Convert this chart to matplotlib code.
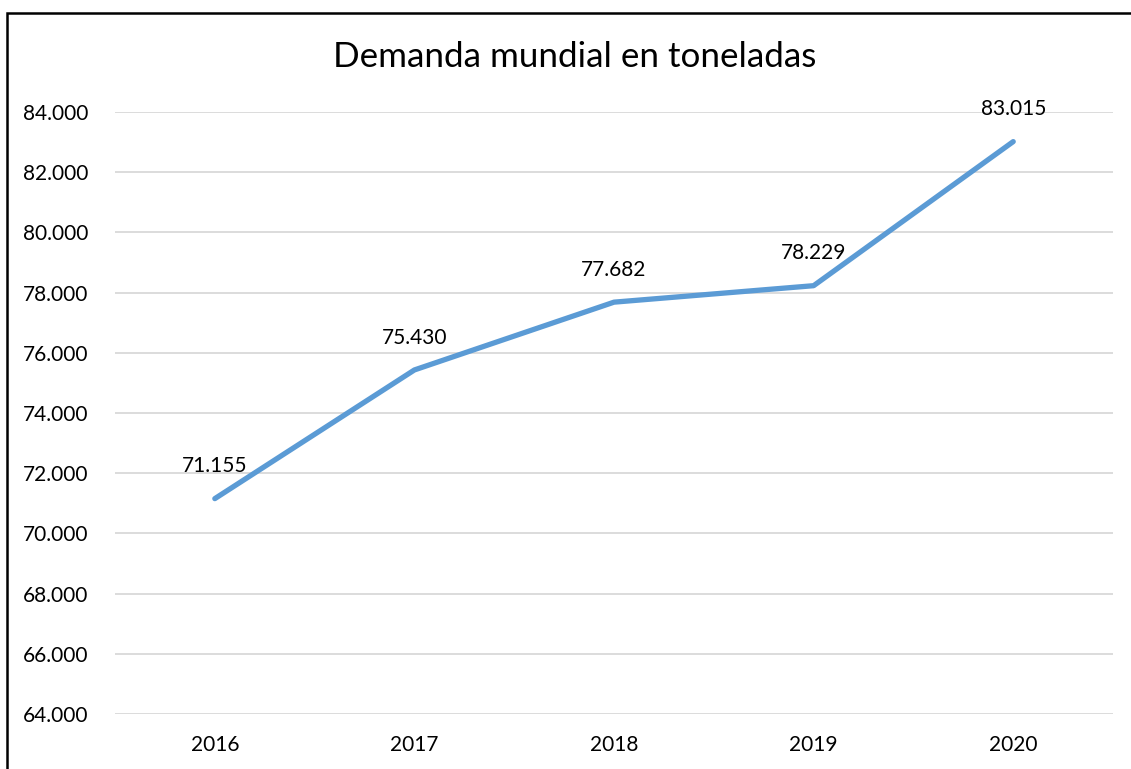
import matplotlib
matplotlib.use('Agg')
import matplotlib.pyplot as plt
from matplotlib.patches import Rectangle

plt.rcParams['font.family'] = ['Lato', 'DejaVu Sans']

# datos
years = ['2016', '2017', '2018', '2019', '2020']
demanda = [71155, 75430, 77682, 78229, 83015]
yticks = list(range(64000, 84001, 2000))

fig = plt.figure(figsize=(11.31, 7.69), dpi=100)
ax = fig.add_axes([0.1017, 0.0715, 0.8824, 0.7829])

x = list(range(len(years)))
ax.plot(x, demanda, color='#5B9BD5', lw=3.8, solid_capstyle='round', zorder=3)

for xi, v in zip(x, demanda):
    ax.annotate(f'{v:,}'.replace(',', '.'), (xi, v), xytext=(0, 16),
                textcoords='offset points', ha='center', va='bottom',
                fontsize=15, color='black')

ax.set_xlim(-0.5, len(years) - 0.5)
ax.set_ylim(64000, 84000)
ax.set_yticks(yticks)
ax.set_yticklabels([f'{t:,}'.replace(',', '.') for t in yticks], fontsize=15)
ax.set_xticks(x)
ax.set_xticklabels(years, fontsize=15)
ax.tick_params(length=0)
ax.tick_params(axis='y', pad=19)
ax.tick_params(axis='x', pad=15)
ax.yaxis.grid(True, color='#D9D9D9', lw=1.3)
ax.set_axisbelow(True)
for s in ax.spines.values():
    s.set_visible(False)

fig.text(0.5085, 0.926, 'Demanda mundial en toneladas', ha='center', va='center',
         fontsize=25.2, color='black')

# borde del gráfico
fig.patches.append(Rectangle((7 / 1131, -0.1), 1.2, 1 - 13 / 769 + 0.1,
                             transform=fig.transFigure, fill=False,
                             edgecolor='black', lw=1.8))

fig.savefig('out.png', dpi=100)
